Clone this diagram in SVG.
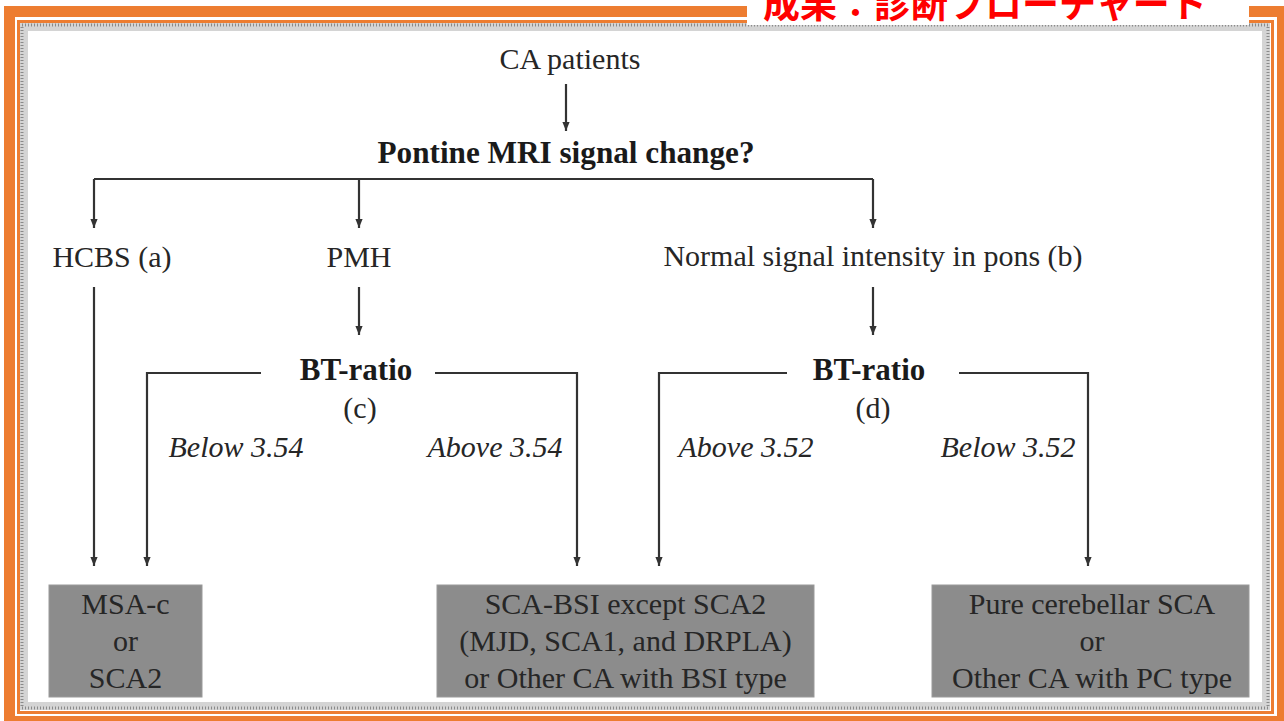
<svg xmlns="http://www.w3.org/2000/svg" width="1284" height="721" viewBox="0 0 1284 721">
<style>
.t{font-family:"Liberation Serif","Times New Roman",serif;font-size:30px;fill:#262626;text-anchor:middle}
.b{font-weight:bold;font-size:31px;fill:#1a1a1a}
.i{font-style:italic}
.box{fill:#8c8c8c;stroke:#9a9a9a;stroke-width:1}
.c{fill:none;stroke:#333;stroke-width:2.2}
.a{marker-end:url(#ah)}
</style>
<defs>
<marker id="ah" viewBox="0 0 10 10" refX="10" refY="5" markerWidth="11" markerHeight="9" markerUnits="userSpaceOnUse" orient="auto">
<path d="M0,1 L10,5 L0,9 Z" fill="#333"/>
</marker>
</defs>
<rect width="1284" height="721" fill="#fff"/>
<g id="frame">
<path d="M4,6 H1284 V721 H4 Z M15,17 V716 H1277 V17 Z" fill="#ed7d31" fill-rule="evenodd"/>
<rect x="18.5" y="21.5" width="1254" height="691" fill="none" stroke="#ed7d31" stroke-width="3"/>
<rect x="24" y="27" width="1242" height="679" fill="none" stroke="#d4d4d4" stroke-width="8"/>
<rect x="22" y="25" width="1246" height="683" fill="none" stroke="#8a8a8a" stroke-width="3" stroke-dasharray="1 2"/>
</g>
<g id="title">
<rect x="747" y="0" width="502" height="25" fill="#fff"/>
<text x="763" y="18" font-family="'Noto Sans CJK JP',sans-serif" font-size="37" font-weight="bold" fill="#ff0000">成果：診断フローチャート</text>
</g>
<g id="connectors">
<path class="c a" d="M566,84 V131"/>
<path class="c" d="M94,179 H873"/>
<path class="c a" d="M94,179 V228"/>
<path class="c a" d="M359,179 V228"/>
<path class="c a" d="M873,179 V228"/>
<path class="c a" d="M94,287 V566"/>
<path class="c a" d="M359,287 V335"/>
<path class="c a" d="M261,373 H147 V566"/>
<path class="c a" d="M435,373 H577 V566"/>
<path class="c a" d="M873,287 V335"/>
<path class="c a" d="M787,373 H659 V566"/>
<path class="c a" d="M959,373 H1088 V566"/>
</g>
<g id="n-ca"><text class="t" x="570" y="69">CA patients</text></g>
<g id="n-pontine"><text class="t b" x="566" y="163" textLength="377" lengthAdjust="spacingAndGlyphs">Pontine MRI signal change?</text></g>
<g id="n-hcbs"><text class="t" x="112" y="267">HCBS (a)</text></g>
<g id="n-pmh"><text class="t" x="359" y="267">PMH</text></g>
<g id="n-normal"><text class="t" x="873" y="266">Normal signal intensity in pons (b)</text></g>
<g id="n-bt-c">
<text class="t b" x="356" y="380">BT-ratio</text>
<text class="t" x="360" y="418">(c)</text>
</g>
<g id="n-bt-d">
<text class="t b" x="869" y="380">BT-ratio</text>
<text class="t" x="873" y="418">(d)</text>
</g>
<g id="labels">
<text class="t i" x="236" y="457">Below 3.54</text>
<text class="t i" x="495" y="457">Above 3.54</text>
<text class="t i" x="746" y="457">Above 3.52</text>
<text class="t i" x="1008" y="457">Below 3.52</text>
</g>
<g id="n-msa">
<rect class="box" x="49" y="585" width="153" height="112"/>
<text class="t" x="125.5" y="614">MSA-c</text>
<text class="t" x="125.5" y="651">or</text>
<text class="t" x="125.5" y="688">SCA2</text>
</g>
<g id="n-scabsi">
<rect class="box" x="437" y="585" width="377" height="112"/>
<text class="t" x="625.5" y="614">SCA-BSI except SCA2</text>
<text class="t" x="625.5" y="651">(MJD, SCA1, and DRPLA)</text>
<text class="t" x="625.5" y="688">or Other CA with BSI type</text>
</g>
<g id="n-pure">
<rect class="box" x="932" y="585" width="317" height="112"/>
<text class="t" x="1092" y="614">Pure cerebellar SCA</text>
<text class="t" x="1092" y="651">or</text>
<text class="t" x="1092" y="688">Other CA with PC type</text>
</g>
</svg>
